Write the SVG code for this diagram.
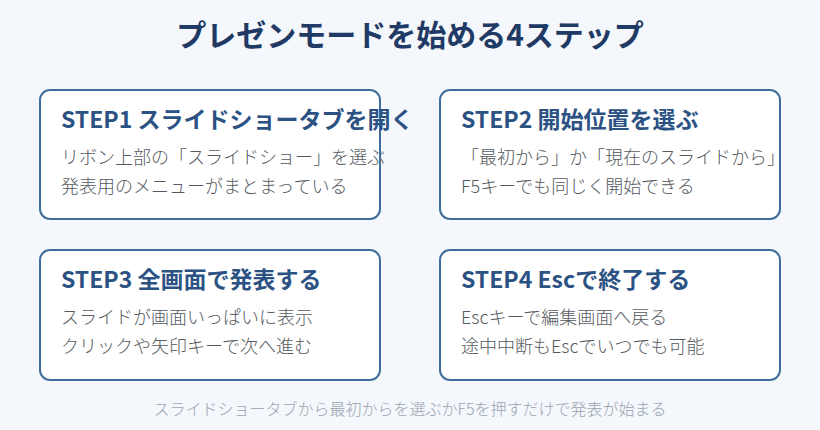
<svg xmlns="http://www.w3.org/2000/svg" width="820" height="430" viewBox="0 0 820 430">
<style>
.bg{fill:#f4f7fb}
.card{fill:#ffffff;stroke:#3f6d9c;stroke-width:2}
.t{font-family:"Noto Sans CJK JP","Noto Sans",sans-serif;}
.title{font-size:30px;font-weight:700;fill:#1f3a64}
.h{font-size:23px;font-weight:700;fill:#2b5283}
.b{font-size:18px;font-weight:300;fill:#555a60}
.f{font-size:16px;font-weight:300;fill:#9aa4b0}
</style>
<rect class="bg" width="820" height="430"/>
<text class="t title" x="410" y="46" text-anchor="middle">プレゼンモードを始める4ステップ</text>
<g id="step1">
<rect class="card" x="40" y="90" width="340" height="129" rx="10"/>
<text class="t h" x="61" y="128">STEP1 スライドショータブを開く</text>
<text class="t b" x="61" y="164">リボン上部の「スライドショー」を選ぶ</text>
<text class="t b" x="61" y="193">発表用のメニューがまとまっている</text>
</g>
<g id="step2">
<rect class="card" x="440" y="90" width="340" height="129" rx="10"/>
<text class="t h" x="461" y="128">STEP2 開始位置を選ぶ</text>
<text class="t b" x="461" y="164">「最初から」か「現在のスライドから」</text>
<text class="t b" x="461" y="193">F5キーでも同じく開始できる</text>
</g>
<g id="step3">
<rect class="card" x="40" y="250" width="340" height="130" rx="10"/>
<text class="t h" x="61" y="288">STEP3 全画面で発表する</text>
<text class="t b" x="61" y="324">スライドが画面いっぱいに表示</text>
<text class="t b" x="61" y="353">クリックや矢印キーで次へ進む</text>
</g>
<g id="step4">
<rect class="card" x="440" y="250" width="340" height="130" rx="10"/>
<text class="t h" x="461" y="288">STEP4 Escで終了する</text>
<text class="t b" x="461" y="324">Escキーで編集画面へ戻る</text>
<text class="t b" x="461" y="353">途中中断もEscでいつでも可能</text>
</g>
<g id="connectors"></g>
<text class="t f" x="410" y="415" text-anchor="middle">スライドショータブから最初からを選ぶかF5を押すだけで発表が始まる</text>
</svg>
